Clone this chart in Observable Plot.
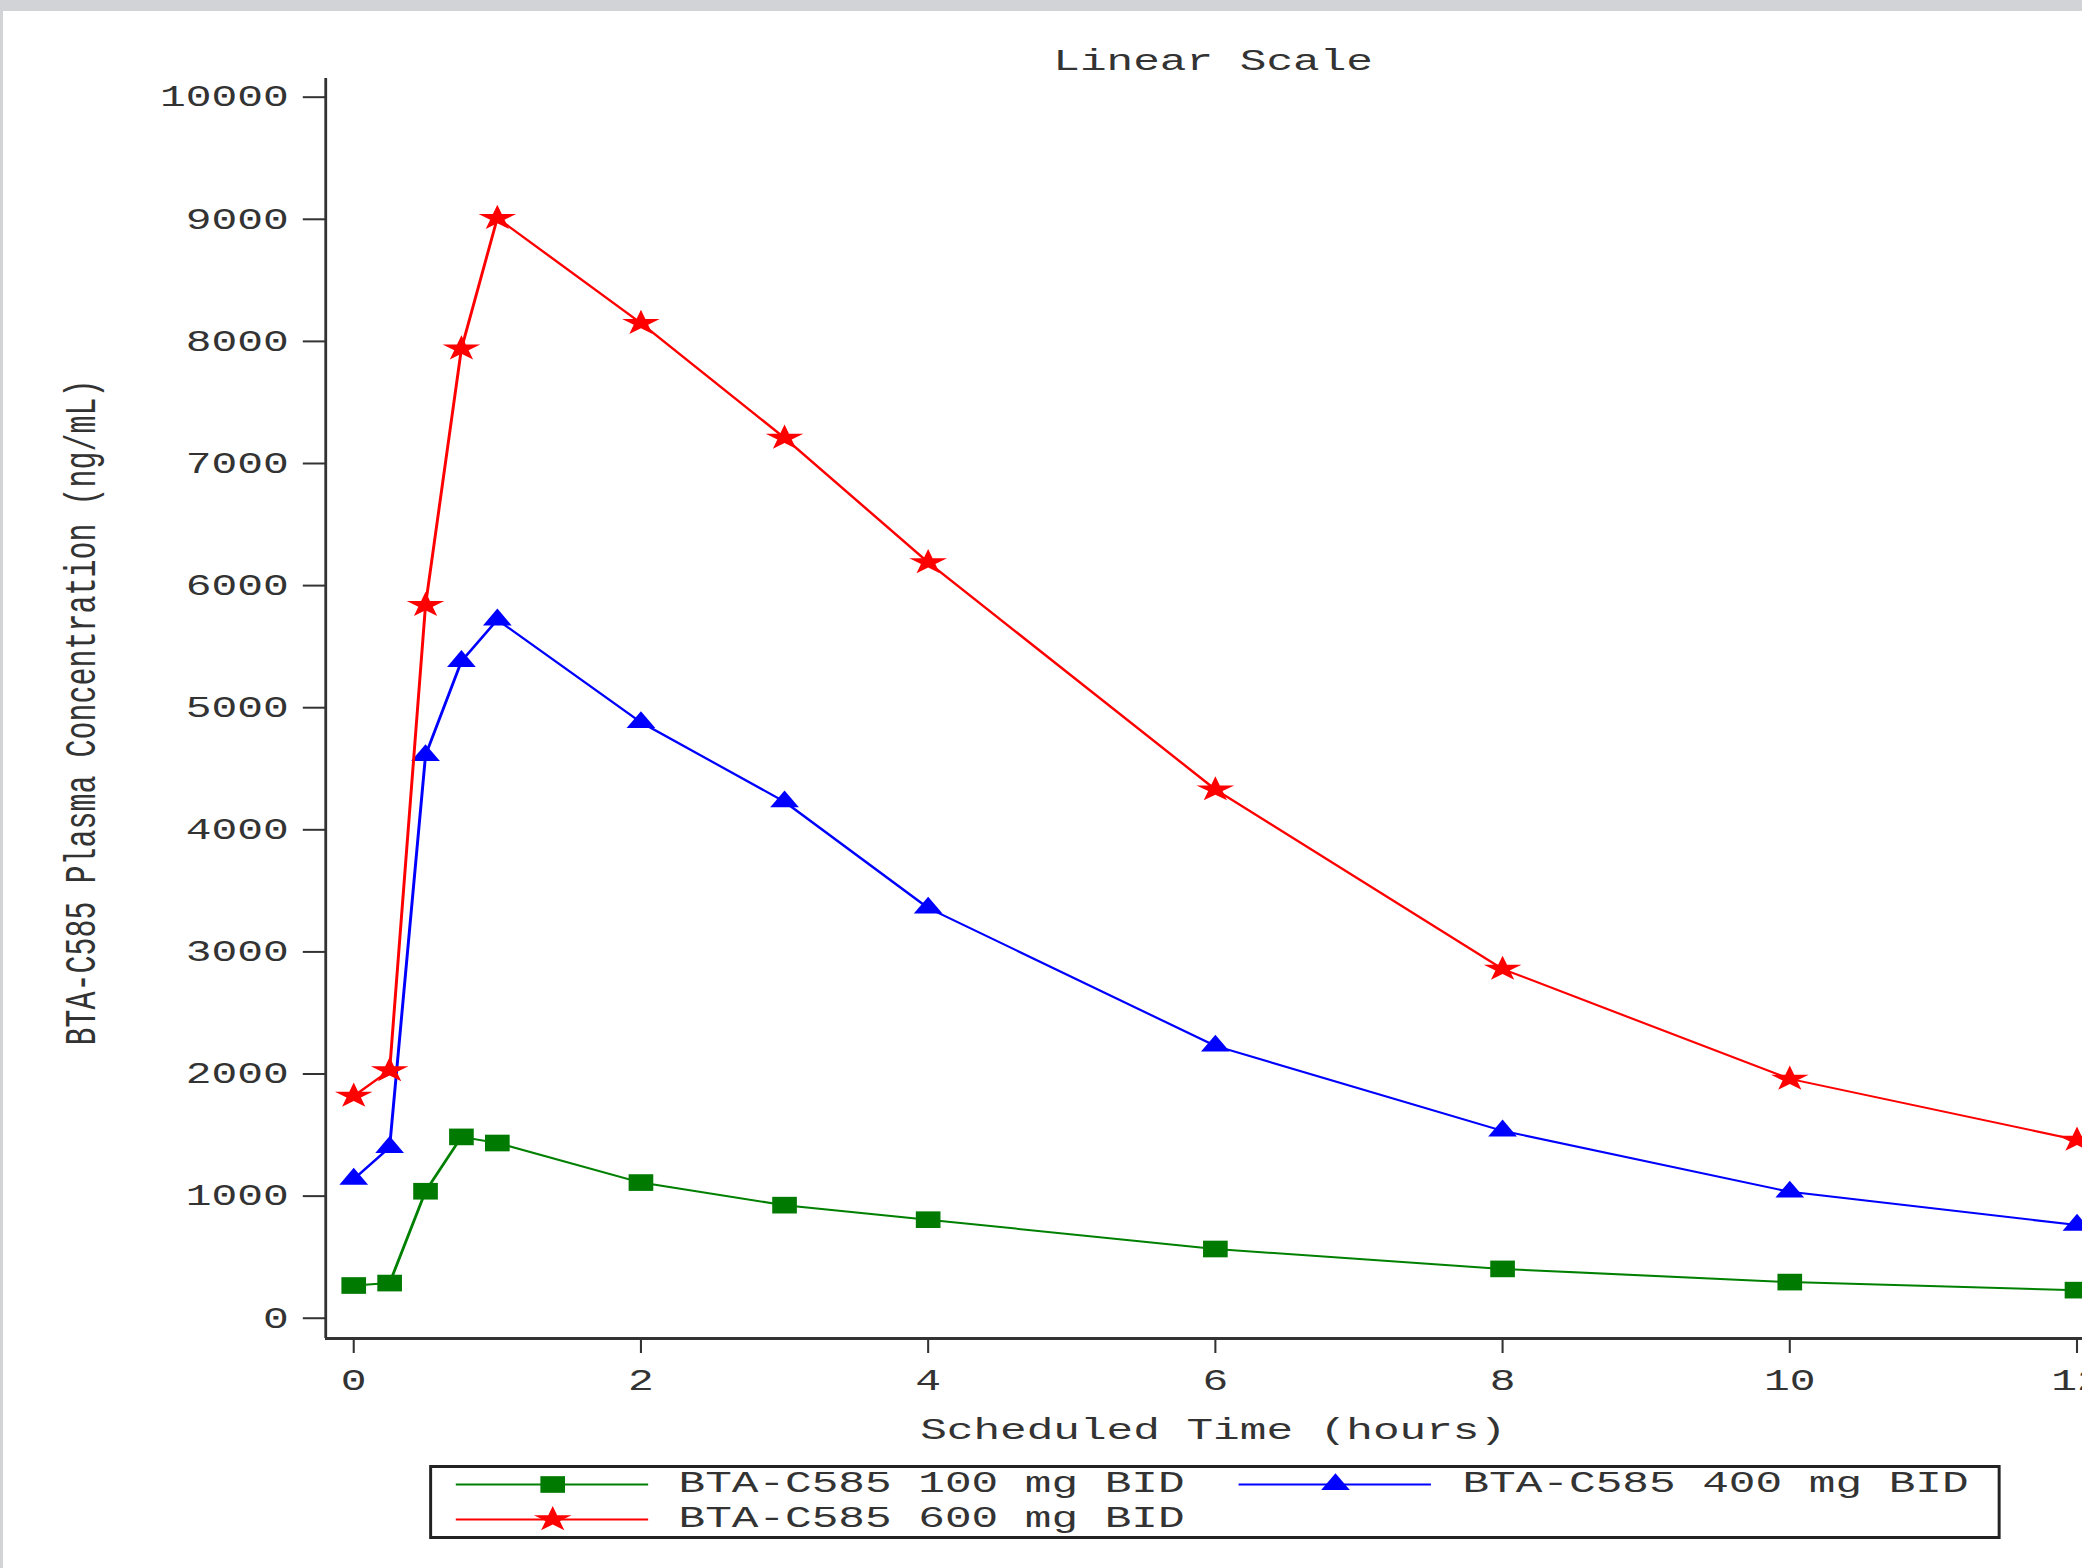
<!DOCTYPE html>
<html><head><meta charset="utf-8">
<script src="https://cdn.jsdelivr.net/npm/d3@7"></script>
<script src="https://cdn.jsdelivr.net/npm/@observablehq/plot@0.6"></script>
<style>
html,body{margin:0;padding:0;background:#d1d3d7;width:2082px;height:1568px;overflow:hidden;}
#page{position:absolute;left:3px;top:11px;width:1405px;height:1557px;background:#fff;transform-origin:0 0;transform:scaleX(1.47972);font-family:'Liberation Mono','Courier New',monospace;color:#333;overflow:hidden;}
#legend{position:absolute;left:288px;top:1454px;width:1062px;height:74px;box-sizing:border-box;border:solid #222;border-width:3px 2px;}
.item{position:absolute;display:flex;align-items:center;height:34px;}
.item svg{display:block;}
.item span{font-size:30px;margin-left:21px;white-space:pre;line-height:34px;color:#333;}
</style></head><body><div id="page"></div>
<script>
// ---- data ----
const times = [0, 0.25, 0.5, 0.75, 1, 2, 3, 4, 6, 8, 10, 12];
const conc100 = [268, 288, 1040, 1485, 1435, 1111, 926, 807, 567, 404, 296, 230];
const conc400 = [1140, 1400, 4610, 5380, 5720, 4880, 4230, 3360, 2230, 1535, 1035, 763];
const conc600 = [1820, 2030, 5840, 7940, 9010, 8150, 7210, 6190, 4330, 2860, 1960, 1460];
const seriesNames = ["BTA-C585 100 mg BID", "BTA-C585 400 mg BID", "BTA-C585 600 mg BID"];
const yTicks = [0, 1000, 2000, 3000, 4000, 5000, 6000, 7000, 8000, 9000, 10000];
const xTicks = [0, 2, 4, 6, 8, 10, 12];
const titleText = "Linear Scale";
const xLabel = "Scheduled Time (hours)";
const yLabel = "BTA-C585 Plasma Concentration (ng/mL)";

// ---- styles ----
const lineColors = ["#008000", "#0000ff", "#ff0000"];
const markColors = ["#007a00", "#0000ff", "#ff0000"];
const symbols = ["square", "triangle", "star"];
const radii = [9.4, 7.2, 8];
const font = "'Liberation Mono','Courier New',monospace";

const values = [conc100, conc400, conc600];
const rows = [];
seriesNames.forEach((s, i) => times.forEach((t, j) => rows.push({series: s, time: t, conc: values[i][j]})));

const W = 1405, H = 1444;
const xMin = -0.195, xMax = 12.04, yMin = -166, yMax = 10153;

const seriesMarks = [];
seriesNames.forEach((s, i) => {
  const d = rows.filter(r => r.series === s);
  seriesMarks.push(Plot.line(d, {x: "time", y: "conc", stroke: lineColors[i], strokeWidth: 2}));
  seriesMarks.push(Plot.dot(d, {x: "time", y: "conc", symbol: symbols[i], fill: markColors[i], r: radii[i]}));
});

const chart = Plot.plot({
  width: W, height: H,
  marginLeft: 217.6, marginRight: 0, marginTop: 67, marginBottom: H - 1327,
  x: {domain: [xMin, xMax], axis: null},
  y: {domain: [yMin, yMax], axis: null},
  style: {fontFamily: font, background: "white", color: "#333", overflow: "hidden"},
  marks: [
    Plot.axisY({ticks: yTicks, tickSize: 15, tickPadding: 10, fontSize: 29, strokeWidth: 2, tickFormat: d3.format("d"), label: null}),
    Plot.axisX({ticks: xTicks, tickSize: 15, tickPadding: 16, fontSize: 29, strokeWidth: 1.4, label: null}),
    Plot.ruleX([xMin], {stroke: "#333", strokeWidth: 1.9}),
    Plot.ruleY([yMin], {stroke: "#333", strokeWidth: 2.8}),
    ...seriesMarks,
    Plot.text([titleText], {text: d => d, frameAnchor: "top", dx: 6, dy: -18, fontSize: 30, fill: "#333", lineAnchor: "middle"}),
    Plot.text([xLabel], {text: d => d, frameAnchor: "bottom", dx: 6, dy: 91, fontSize: 30, fill: "#333", lineAnchor: "middle"}),
    Plot.text([yLabel], {text: d => d, frameAnchor: "left", dx: -165.8, dy: 4, rotate: -90, fontSize: 30, fill: "#333", textAnchor: "middle", lineAnchor: "middle"})
  ]
});

const page = document.getElementById("page");
page.appendChild(chart);

// ---- legend ----
const legend = document.createElement("div");
legend.id = "legend";
seriesNames.forEach((s, i) => {
  const col = i % 2, row = Math.floor(i / 2);
  const item = document.createElement("div");
  item.className = "item";
  item.style.left = (15.5 + col * 529.8) + "px";
  item.style.top = (-1 + row * 35) + "px";
  const icon = Plot.plot({
    width: 130, height: 34, margin: 0,
    x: {domain: [0, 1], axis: null}, y: {domain: [-1, 1], axis: null},
    style: {background: "transparent", overflow: "visible"},
    marks: [
      Plot.ruleY([0], {stroke: lineColors[i], strokeWidth: 2}),
      Plot.dot([0.5], {x: d => d, y: () => 0, symbol: symbols[i], fill: markColors[i], r: radii[i]})
    ]
  });
  item.appendChild(icon);
  const label = document.createElement("span");
  label.textContent = s;
  item.appendChild(label);
  legend.appendChild(item);
});
page.appendChild(legend);
</script></body></html>
